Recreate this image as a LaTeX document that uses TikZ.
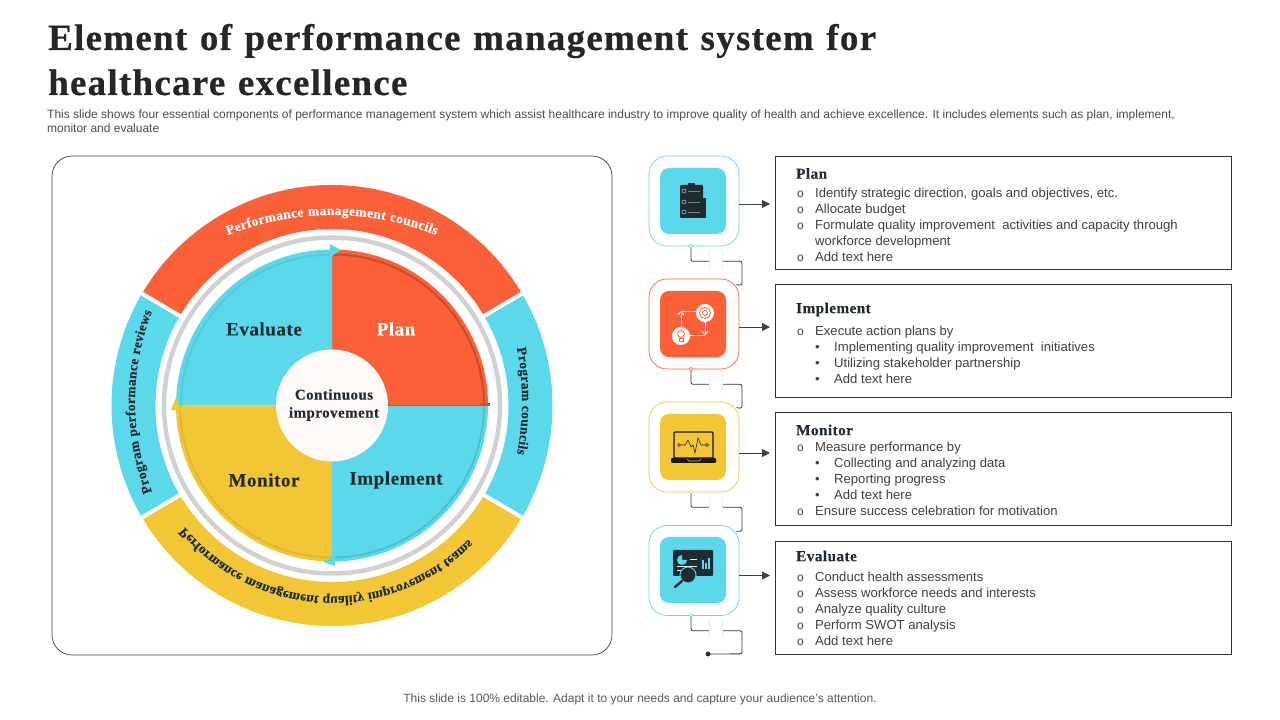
\documentclass[tikz,border=0pt]{standalone}
\usepackage{fontspec}
\usepackage{tikz}
\usetikzlibrary{decorations.text,arrows.meta}
\setmainfont{Liberation Sans}
\newfontfamily\titlefont[LetterSpace=3.4,WordSpace=1.2,FakeBold=0.45]{Liberation Serif}
\newfontfamily\labelfont[LetterSpace=3,FakeBold=0.15]{Liberation Serif}
\definecolor{healthcyan}{HTML}{5BD9EA}
\definecolor{healthorange}{HTML}{FB6038}
\definecolor{healthyellow}{HTML}{F2C635}
\definecolor{inkdark}{HTML}{1E2B33}
\newcommand{\oitem}[1]{\makebox[18pt][l]{\fontsize{12}{12}\selectfont o}#1}
\newcommand{\bitem}[1]{\hspace*{18pt}\makebox[19pt][l]{\textbullet}#1}
\tikzset{
  pielabel/.style={font=\labelfont\bfseries\fontsize{19}{20}\selectfont,inner sep=0pt},
  boxhead/.style={font=\labelfont\bfseries\fontsize{15.2}{16}\selectfont,text=inkdark,anchor=west,inner sep=0pt},
  boxtext/.style={font=\fontsize{13.1}{16}\selectfont,text=black!75,align=left,anchor=north west,inner sep=0pt},
  textbox/.style={draw=black!80,line width=0.7pt,minimum width=456pt,minimum height=113pt,anchor=north west},
  iconouter/.style={rectangle,rounded corners=18pt,fill=white,line width=0.7pt,minimum width=90pt,minimum height=90pt,inner sep=0pt},
  iconinner/.style={rectangle,rounded corners=9pt,minimum width=66pt,minimum height=66pt,inner sep=0pt},
  flowarrow/.style={draw=black!75,line width=0.8pt,-{Triangle[length=8pt,width=8pt]},shorten >=5pt},
  linkline/.style={draw=black!80,line width=0.8pt,rounded corners=2pt},
  gapline/.style={draw=black!8,line width=0.8pt},
  ringpart/.style={line width=44pt},
  darkfill/.style={fill=inkdark},
}
\begin{document}
\begin{tikzpicture}[x=1pt,y=1pt]
    \useasboundingbox (0,0) rectangle (1280,720);
    \fill[white] (0,0) rectangle (1280,720);
    \node[anchor=base west,inner sep=0pt,font=\titlefont\bfseries\fontsize{37}{37}\selectfont,text=black!85] (titleone) at (48,670) {Element of performance management system for};
    \node[anchor=base west,inner sep=0pt,font=\titlefont\bfseries\fontsize{37}{37}\selectfont,text=black!85] (titletwo) at (48,625) {healthcare excellence};
    \node[anchor=base west,inner sep=0pt,font=\fontsize{12}{14}\selectfont,text=black!70] (subone) at (47,601) {This slide shows four essential components of performance management system which assist healthcare industry to improve quality of health and achieve excellence. It includes elements such as plan, implement,};
    \node[anchor=base west,inner sep=0pt,font=\fontsize{12}{14}\selectfont,text=black!70] (subtwo) at (47,587) {monitor and evaluate};
    \node[anchor=base,inner sep=0pt,font=\fontsize{12}{14}\selectfont,text=black!65] (footer) at (640,17) {This slide is 100\% editable. Adapt it to your needs and capture your audience's attention.};

    \draw[black!75,line width=0.7pt,rounded corners=20pt] (52,65) rectangle (612,564);
    \coordinate (c) at (332,314.5);

    \draw[ringpart,healthorange] (c) ++(30.5:198.5pt) arc (30.5:149.5:198.5pt);
    \draw[ringpart,healthcyan] (c) ++(149.5:198.5pt) arc (149.5:210.5:198.5pt);
    \draw[ringpart,healthyellow] (c) ++(210.5:198.5pt) arc (210.5:329.5:198.5pt);
    \draw[ringpart,healthcyan] (c) ++(-30.5:198.5pt) arc (-30.5:30.5:198.5pt);
    \draw[white,line width=4pt] (c) ++(30.5:175pt) -- ++(30.5:50pt);
    \draw[white,line width=4pt] (c) ++(149.5:175pt) -- ++(149.5:50pt);
    \draw[white,line width=4pt] (c) ++(210.5:175pt) -- ++(210.5:50pt);
    \draw[white,line width=4pt] (c) ++(329.5:175pt) -- ++(329.5:50pt);
    \draw[black!18,line width=4.5pt] (c) circle (168pt);

    \fill[healthorange] (c) -- ++(0:156pt) arc (0:90:156pt) -- cycle;
    \fill[healthcyan] (c) -- ++(90:156pt) arc (90:180:156pt) -- cycle;
    \fill[healthyellow] (c) -- ++(180:156pt) arc (180:270:156pt) -- cycle;
    \fill[healthcyan] (c) -- ++(270:156pt) arc (270:360:156pt) -- cycle;
    \draw[healthorange!80!black,line width=2pt] (c) ++(0:152pt) arc (0:90:151pt);
    \draw[healthcyan!93!black,line width=2pt] (c) ++(90:151pt) arc (90:180:151pt);
    \draw[healthyellow!93!black,line width=2pt] (c) ++(180:152pt) arc (180:270:152pt);
    \draw[healthcyan!88!black,line width=2pt] (c) ++(270:152pt) arc (270:360:152pt);
    \fill[healthcyan] (330,476) -- (341,470) -- (330,463) -- cycle;
    \fill[healthorange!85!black] (332,316.5) -- (490,316.5) -- (490,313.5) -- (332,313.5) -- cycle;
    \fill[healthorange] (389,316.5) -- (480,316.5) -- (480,314.5) -- (389,314.5) -- cycle;
    \fill[healthyellow] (176,322) -- (171,310) -- (181,310) -- cycle;
    \fill[healthcyan] (323,158) -- (335,165) -- (335,154) -- cycle;

    \node[circle,fill=white!96!healthorange,minimum size=112pt,inner sep=0pt] (centre) at (c) {};
    \node[font=\labelfont\bfseries\fontsize{15}{18}\selectfont,align=center,text=inkdark,inner sep=0pt] (centretext) at (334,315) {Continuous\\improvement};
    \node[pielabel,text=inkdark] (evaluatelabel) at (264,391) {Evaluate};
    \node[pielabel,text=white] (planlabel) at (396,391) {Plan};
    \node[pielabel,text=inkdark] (monitorlabel) at (264,240) {Monitor};
    \node[pielabel,text=inkdark] (implementlabel) at (396,240) {Implement};

    \path[decorate,decoration={text along path,text align={fit to path},text={|\labelfont\bfseries\fontsize{13.5}{13.5}\selectfont\color{white}|Performance management councils}}] (228,485) arc (111.8:68.2:280pt);
    \path[decorate,decoration={text along path,text align={fit to path},text={|\labelfont\bfseries\fontsize{13.5}{13.5}\selectfont\color{inkdark}|Program councils}}] (517,372) arc (10.8:-10.8:283pt);
    \path[decorate,decoration={text along path,text align={fit to path},text={|\labelfont\bfseries\fontsize{13.5}{13.5}\selectfont\color{inkdark}|Program performance reviews}}] (152,228) arc (201.4:158.6:247pt);
    \begin{scope}[transform canvas={shift={(332,314.5)},yscale=-1}]
      \path[decorate,decoration={text along path,text align={fit to path},text={|\labelfont\bfseries\fontsize{13.5}{13.5}\selectfont\color{inkdark}|Performance management quality improvement teams}}] (140.5:191pt) arc (140.5:44.5:191pt);
    \end{scope}

    \node[textbox] (planbox) at (775,564) {};
    \node[textbox] (implementbox) at (775,436) {};
    \node[textbox] (monitorbox) at (775,308) {};
    \node[textbox] (evaluatebox) at (775,179) {};
    \node[boxhead] (planhead) at (796,546.5) {Plan};
    \node[boxhead] (implementhead) at (796,410.5) {Implement};
    \node[boxhead] (monitorhead) at (796,290) {Monitor};
    \node[boxhead] (evaluatehead) at (796,164) {Evaluate};
    \node[boxtext] (plantext) at (797,532) {\oitem{Identify strategic direction, goals and objectives, etc.}\\\oitem{Allocate budget}\\\oitem{Formulate quality improvement\ \ activities and capacity through}\\\hspace*{18pt}workforce development\\\oitem{Add text here}};
    \node[boxtext] (implementtext) at (797,394) {\oitem{Execute action plans by}\\\bitem{Implementing quality improvement\ \ initiatives}\\\bitem{Utilizing stakeholder partnership}\\\bitem{Add text here}};
    \node[boxtext] (monitortext) at (797,278) {\oitem{Measure performance by}\\\bitem{Collecting and analyzing data}\\\bitem{Reporting progress}\\\bitem{Add text here}\\\oitem{Ensure success celebration for motivation}};
    \node[boxtext] (evaluatetext) at (797,148) {\oitem{Conduct health assessments}\\\oitem{Assess workforce needs and interests}\\\oitem{Analyze quality culture}\\\oitem{Perform SWOT analysis}\\\oitem{Add text here}};

    \node[iconouter,draw=healthcyan] (planicon) at (694,519) {};
    \node[iconouter,draw=healthorange] (implementicon) at (694,396) {};
    \node[iconouter,draw=healthyellow] (monitoricon) at (694,273) {};
    \node[iconouter,draw=healthcyan] (evaluateicon) at (694,149.5) {};
    \node[iconinner,fill=healthcyan] (planinner) at (693,519) {};
    \node[iconinner,fill=healthorange] (implementinner) at (693,396) {};
    \node[iconinner,fill=healthyellow] (monitorinner) at (693,273) {};
    \node[iconinner,fill=healthcyan] (evaluateinner) at (693,150) {};

    \draw[flowarrow] ([yshift=-3pt]planicon.east) -- ([yshift=-3pt]planicon.east -| planbox.west);
    \draw[flowarrow] ([yshift=-3pt]implementicon.east) -- ([yshift=-3pt]implementicon.east -| implementbox.west);
    \draw[flowarrow] ([yshift=-6pt]monitoricon.east) -- ([yshift=-6pt]monitoricon.east -| monitorbox.west);
    \draw[flowarrow] ([yshift=-5pt]evaluateicon.east) -- ([yshift=-5pt]evaluateicon.east -| evaluatebox.west);

    \draw[linkline] ([xshift=-3pt]planicon.south) -- ++(0,-15) -- ++(18,0);
    \draw[linkline] ([xshift=28pt,yshift=-15pt]planicon.south) -- ++(20,0) -- ++(0,-24) -- ([shift={(-3,-6)}]implementicon.north east);
    \draw[linkline] ([xshift=-3pt]implementicon.south) -- ++(0,-15) -- ++(18,0);
    \draw[linkline] ([xshift=28pt,yshift=-15pt]implementicon.south) -- ++(20,0) -- ++(0,-24) -- ([shift={(-3,-6)}]monitoricon.north east);
    \draw[linkline] ([xshift=-3pt]monitoricon.south) -- ++(0,-15) -- ++(18,0);
    \draw[linkline] ([xshift=28pt,yshift=-15pt]monitoricon.south) -- ++(20,0) -- ++(0,-24) -- ([shift={(-3,-6)}]evaluateicon.north east);
    \draw[linkline] ([xshift=-3pt]evaluateicon.south) -- ++(0,-15) -- ++(18,0);
    \coordinate (evalend) at (708,66);
    \draw[linkline] ([xshift=28pt,yshift=-15pt]evaluateicon.south) -- ++(20,0) -- ++(0,-23) -- (evalend);
    \fill[black!80] (evalend) circle (2.5pt);
    \draw[gapline] (709,469) -- (709,452);
    \draw[gapline] (722,469) -- (722,452);
    \draw[gapline] (709,346) -- (709,329);
    \draw[gapline] (722,346) -- (722,329);
    \draw[gapline] (709,223) -- (709,206);
    \draw[gapline] (722,223) -- (722,206);
    \draw[gapline] (709,100) -- (709,83);
    \draw[gapline] (722,100) -- (722,83);
    \draw[healthcyan,fill=white,line width=0.6pt] (691,474) circle (1.8pt);
    \draw[healthorange,fill=white,line width=0.6pt] (691,351) circle (1.8pt);
    \draw[healthyellow,fill=white,line width=0.6pt] (691,228) circle (1.8pt);
    \draw[healthcyan,fill=white,line width=0.6pt] (691,104.5) circle (1.8pt);

    \begin{scope}[shift={(693,519)}]
      \fill[darkfill,rounded corners=1pt] (-13,-17) rectangle (10,16);
      \fill[darkfill] (-5,15) rectangle (2,18);
      \fill[darkfill] (8,-17) rectangle (13,3);
      \draw[healthcyan!70,line width=0.5pt] (-9,10) circle (2pt);
      \draw[healthcyan!70,line width=0.5pt] (-9,-1) circle (2pt);
      \draw[healthcyan!70,line width=0.5pt] (-9,-11) circle (2pt);
      \draw[black!50,line width=0.8pt] (-5,10) -- (7,10);
      \draw[black!50,line width=0.8pt] (-5,-1) -- (7,-1);
      \draw[black!50,line width=0.8pt] (-5,-11) -- (7,-11);
    \end{scope}

    \begin{scope}[shift={(693,396)}]
      \draw[white,line width=1pt,-{Straight Barb[length=3pt,width=6pt]}] (-12,-4) -- (-12,13);
      \draw[white,line width=1pt] (-12,12) -- (4,12);
      \draw[white,line width=1pt,-{Straight Barb[length=3pt,width=6pt]}] (12,4) -- (12,-11);
      \draw[white,line width=1pt] (-4,-12) -- (12,-12);
      \fill[white] (12,11) circle (9pt);
      \fill[white] (-12,-12) circle (9pt);
      \draw[healthorange,line width=0.8pt] (12,11) circle (5.5pt);
      \draw[healthorange,line width=0.8pt] (12,11) circle (2.5pt);
      \draw[healthorange,line width=0.8pt,fill=white] (-12,-10) circle (3.5pt);
      \draw[healthorange,line width=0.8pt] (-14,-14) rectangle (-10,-17);
    \end{scope}

    \begin{scope}[shift={(693,273)}]
      \draw[black!90,line width=1.2pt,rounded corners=1pt] (-19,15) rectangle (20,-11);
      \fill[black!90,rounded corners=1pt] (-22,-11) rectangle (23,-16);
      \draw[healthyellow,line width=0.6pt] (-6,-12) -- (-4,-14) -- (6,-14) -- (8,-12);
      \draw[black!85,line width=0.6pt] (-14,2) circle (1.5pt);
      \draw[black!85,line width=0.6pt] (14,2) circle (1.5pt);
      \draw[black!85,line width=0.6pt] (-12.5,2) -- (-8,2) -- (-5,7) -- (-2,0) -- (0,2) -- (2,-6) -- (5,9) -- (8,2) -- (12.5,2);
    \end{scope}

    \begin{scope}[shift={(693,150)}]
      \fill[darkfill,rounded corners=1pt] (-20,20) rectangle (20,-6);
      \fill[healthcyan] (-11,10) -- (-11,15) arc (90:360:5pt) -- cycle;
      \draw[white!80!healthcyan,line width=0.6pt] (-3,11) -- (4,11);
      \draw[white!80!healthcyan,line width=0.6pt] (-16,4) -- (4,4);
      \draw[white!80!healthcyan,line width=0.6pt] (-16,0) -- (-6,0);
      \fill[healthcyan] (9,1) rectangle (10.5,10);
      \fill[healthcyan] (12,1) rectangle (13.5,7);
      \fill[healthcyan] (15,1) rectangle (16.5,12);
      \draw[healthcyan,line width=0.9pt,fill=inkdark] (-5,-5) circle (8pt);
      \draw[inkdark,line width=2.4pt,line cap=round] (-11,-11) -- (-18,-17);
    \end{scope}
  \end{tikzpicture}
\end{document}
